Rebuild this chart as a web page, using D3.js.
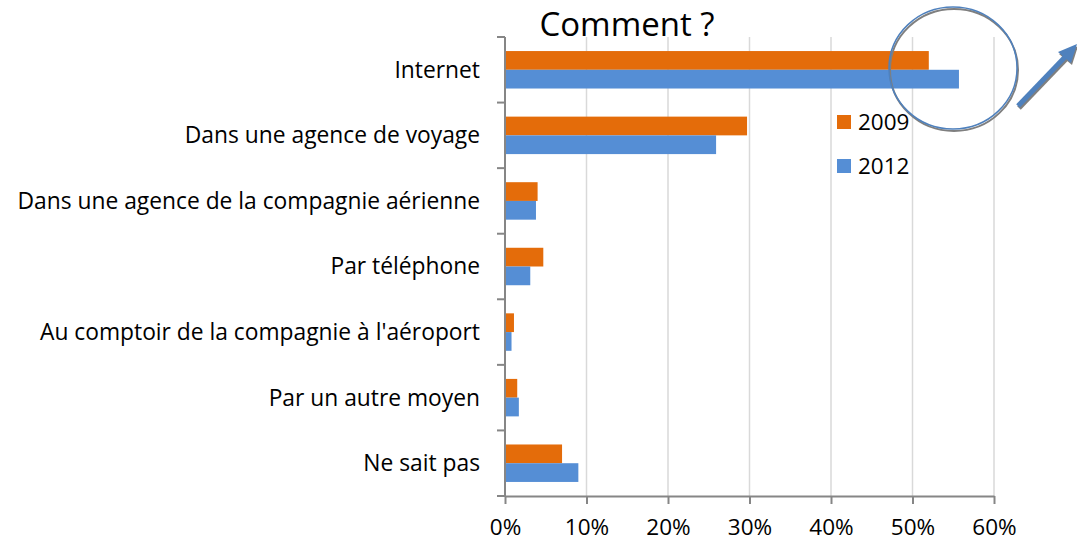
<!DOCTYPE html>
<html>
<head>
<meta charset="utf-8">
<title>Comment ?</title>
<script src="https://d3js.org/d3.v7.min.js"></script>
<style>
  body { margin: 0; background: #fff; }
  svg { display: block; font-family: "Open Sans", sans-serif; }
  .grid line { stroke: #d9d9d9; stroke-width: 1.5px; }
  .axis path, .axis line { stroke: #868686; stroke-width: 2px; }
  .axis text { font-size: 22.5px; fill: #000; font-family: "Open Sans", sans-serif; }
</style>
</head>
<body>
<div id="chart"></div>
<script>
// categories, top to bottom
var categories = [
  "Internet",
  "Dans une agence de voyage",
  "Dans une agence de la compagnie aérienne",
  "Par téléphone",
  "Au comptoir de la compagnie à l'aéroport",
  "Par un autre moyen",
  "Ne sait pas"
];
var series = ["2009", "2012"];
var values2009 = [0.52, 0.297, 0.040, 0.047, 0.011, 0.015, 0.070];
var values2012 = [0.557, 0.259, 0.038, 0.031, 0.008, 0.017, 0.090];
var xTicks = [0, 0.1, 0.2, 0.3, 0.4, 0.5, 0.6];
var colors = { "2009": "#e46c0a", "2012": "#558ed5" };

var W = 1077, H = 541;
var margin = { top: 37, left: 505, right: 83, bottom: 45 };

var svg = d3.select("#chart").append("svg")
  .attr("width", W).attr("height", H);

var x = d3.scaleLinear().domain([0, 0.6]).range([margin.left, W - margin.right]);
var y = d3.scaleBand().domain(categories).range([margin.top, H - margin.bottom]).padding(0);
var ySub = d3.scaleBand().domain(series).range([0, y.bandwidth()])
  .paddingInner(0).paddingOuter(0.75);

var rows = categories.map(function(c, i) {
  return { cat: c, "2009": values2009[i], "2012": values2012[i] };
});

// gridlines
svg.append("g").attr("class", "grid")
  .selectAll("line").data(xTicks.slice(1)).enter().append("line")
  .attr("x1", function(d) { return x(d); }).attr("x2", function(d) { return x(d); })
  .attr("y1", margin.top).attr("y2", H - margin.bottom);

// bars
svg.append("g").selectAll("g").data(rows).enter().append("g")
  .attr("transform", function(d) { return "translate(0," + y(d.cat) + ")"; })
  .selectAll("rect")
  .data(function(d) { return series.map(function(s) { return { key: s, value: d[s] }; }); })
  .enter().append("rect")
  .attr("x", x(0))
  .attr("y", function(d) { return ySub(d.key); })
  .attr("width", function(d) { return x(d.value) - x(0); })
  .attr("height", ySub.bandwidth())
  .attr("fill", function(d) { return colors[d.key]; });

// x axis
var xAxis = d3.axisBottom(x).tickValues(xTicks).tickFormat(d3.format(".0%"))
  .tickSize(8).tickSizeOuter(0).tickPadding(15);
svg.append("g").attr("class", "axis")
  .attr("transform", "translate(0," + (H - margin.bottom) + ")")
  .call(xAxis);

// y axis: line with ticks at category boundaries
var yAxisG = svg.append("g").attr("class", "axis");
yAxisG.append("line")
  .attr("x1", x(0)).attr("x2", x(0))
  .attr("y1", margin.top).attr("y2", H - margin.bottom);
var edges = categories.map(function(c) { return y(c); }).concat([H - margin.bottom]);
yAxisG.selectAll("line.tk").data(edges).enter().append("line")
  .attr("class", "tk")
  .attr("x1", x(0) - 8).attr("x2", x(0))
  .attr("y1", function(d) { return d; }).attr("y2", function(d) { return d; });

// category labels
svg.append("g").selectAll("text").data(categories).enter().append("text")
  .attr("x", x(0) - 25)
  .attr("y", function(d) { return y(d) + y.bandwidth() / 2; })
  .attr("dy", "0.35em")
  .attr("text-anchor", "end")
  .attr("font-size", 22.8)
  .text(function(d) { return d; });

// title
svg.append("text")
  .attr("x", 627).attr("y", 36)
  .attr("text-anchor", "middle")
  .attr("font-size", 33)
  .text("Comment ?");

// legend
var legend = svg.append("g").selectAll("g").data(series).enter().append("g")
  .attr("transform", function(d, i) { return "translate(837," + (115 + i * 44) + ")"; });
legend.append("rect").attr("width", 14).attr("height", 14)
  .attr("fill", function(d) { return colors[d]; });
legend.append("text").attr("x", 21).attr("y", 7).attr("dy", "0.35em")
  .attr("font-size", 22.5).text(function(d) { return d; });

// highlight circle and arrow with shadow
var deco = svg.append("g");
deco.append("ellipse").attr("cx", 953).attr("cy", 68).attr("rx", 64).attr("ry", 61)
  .attr("fill", "none").attr("stroke", "#7f7f7f").attr("stroke-width", 2)
  .attr("transform", "translate(1,2)");
deco.append("ellipse").attr("cx", 953).attr("cy", 68).attr("rx", 64).attr("ry", 61)
  .attr("fill", "none").attr("stroke", "#4f81bd").attr("stroke-width", 1.5);

function arrow(g, dx, dy, col) {
  g.append("line").attr("x1", 1018 + dx).attr("y1", 106 + dy)
    .attr("x2", 1066 + dx).attr("y2", 56 + dy)
    .attr("stroke", col).attr("stroke-width", 5);
  g.append("path")
    .attr("d", "M" + (1077 + dx) + "," + (44 + dy) + " L" + (1058 + dx) + "," + (52 + dy) +
      " L" + (1071 + dx) + "," + (63 + dy) + " Z")
    .attr("fill", col);
}
arrow(deco, 1, 2, "#7f7f7f");
arrow(deco, 0, 0, "#4f81bd");
</script>
</body>
</html>
